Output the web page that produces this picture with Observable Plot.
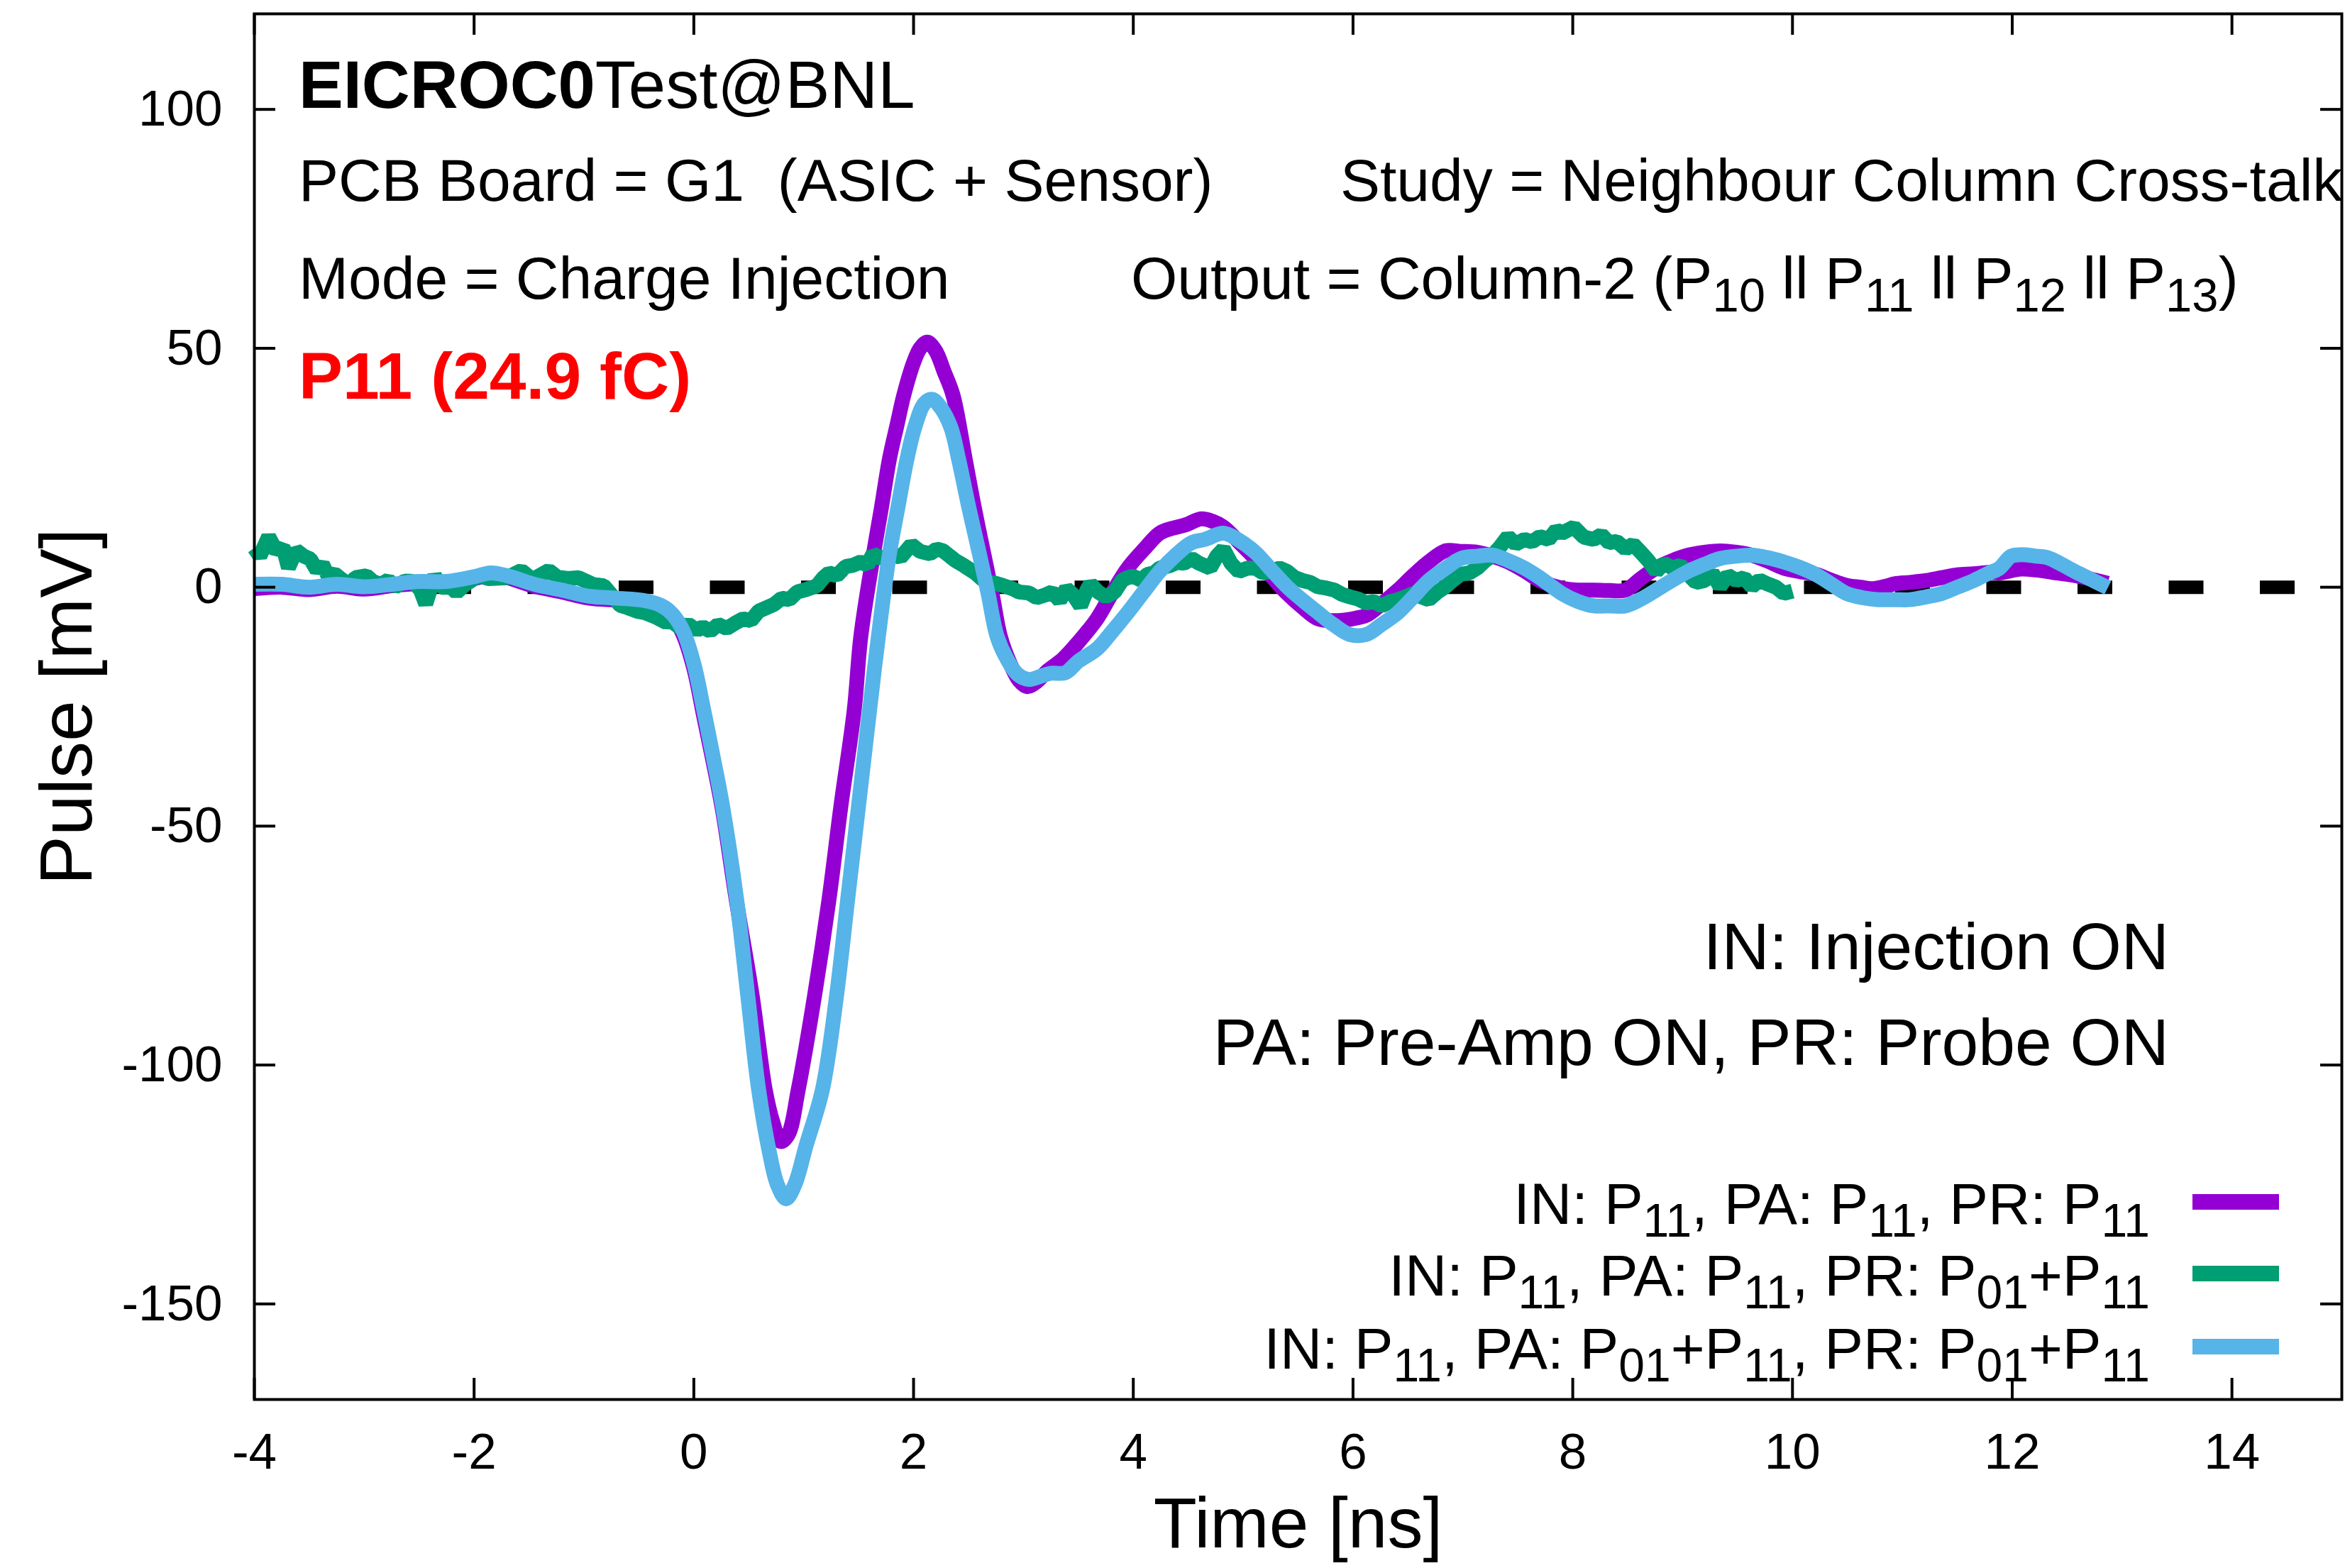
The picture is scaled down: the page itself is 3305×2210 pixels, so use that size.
<!DOCTYPE html>
<html>
<head>
<meta charset="utf-8">
<script src="https://cdn.jsdelivr.net/npm/d3@7"></script>
<script src="https://cdn.jsdelivr.net/npm/@observablehq/plot@0.6"></script>
<style>
  html, body { margin: 0; padding: 0; background: #ffffff; }
  #chart svg { display: block; }
  #chart svg text { font-family: "Liberation Sans", Arial, Helvetica, sans-serif; }
</style>
</head>
<body>
<div id="chart"></div>
<script>
// ---------------- data ----------------
const xTicks = [-4, -2, 0, 2, 4, 6, 8, 10, 12, 14];
const yTicks = [-150, -100, -50, 0, 50, 100];

const seriesColors = ["#9400d3", "#009e73", "#56b4e9"];

// IN: P11, PA: P11, PR: P11  (purple)
const timePurple = [-4.00,-3.75,-3.50,-3.25,-3.00,-2.75,-2.50,-2.25,-2.00,-1.85,-1.70,-1.45,-1.20,-0.95,-0.70,-0.45,-0.30,-0.20,-0.10,0.00,0.09,0.18,0.26,0.39,0.53,0.65,0.72,0.79,0.86,0.95,1.10,1.23,1.34,1.46,1.52,1.635,1.71,1.78,1.85,1.91,2.00,2.06,2.125,2.20,2.28,2.36,2.47,2.55,2.64,2.72,2.79,2.88,2.96,3.035,3.12,3.22,3.36,3.50,3.67,3.80,3.95,4.10,4.24,4.35,4.47,4.62,4.72,4.82,4.96,5.11,5.25,5.40,5.54,5.68,5.80,5.91,6.02,6.12,6.26,6.41,6.55,6.69,6.84,6.98,7.13,7.27,7.41,7.56,7.70,7.90,8.05,8.19,8.34,8.48,8.62,8.76,8.91,9.05,9.20,9.34,9.49,9.63,9.77,9.92,10.06,10.21,10.35,10.49,10.62,10.73,10.85,10.93,11.07,11.22,11.36,11.50,11.65,11.79,11.88,12.08,12.22,12.37,12.50,12.62,12.75,12.87];
const pulsePurple = [-0.3,0.0,-0.5,0.2,-0.4,0.3,0.8,0.9,1.8,2.6,2.0,0.2,-1.0,-2.3,-2.7,-3.2,-4.0,-5.8,-9.8,-17,-27,-37,-46.5,-66,-85.3,-105.2,-112,-116,-114.5,-105.2,-85.3,-65.4,-45.6,-25.7,-10.3,6.9,17,26.8,34,40.1,47,50,51.3,49.5,45,40.1,26.8,17,6.9,-2,-10.3,-16,-19.5,-20.8,-19.8,-17.5,-15,-11.5,-6.6,-1.5,4.0,8.0,11.3,12.3,13.0,14.3,13.8,12.6,9.5,6.0,2.5,-1.3,-4.2,-6.6,-7.0,-6.9,-6.5,-5.9,-3.5,-0.6,2.5,5.3,7.6,7.5,7.3,6.5,5.3,3.4,1.4,-0.2,-0.6,-0.6,-0.7,-0.6,1.8,4.0,5.6,6.7,7.3,7.6,7.3,6.7,5.5,4.0,3.3,2.7,1.5,0.4,0.0,-0.3,0.2,0.7,1.0,1.4,2.0,2.6,2.8,3.1,3.0,3.8,3.6,3.1,2.7,2.2,1.5,0.8];

// IN: P11, PA: P11, PR: P01+P11  (green)
const timeGreen = [-4.00,-3.95,-3.87,-3.80,-3.74,-3.69,-3.62,-3.55,-3.49,-3.43,-3.38,-3.33,-3.27,-3.20,-3.13,-3.08,-2.98,-2.92,-2.85,-2.78,-2.72,-2.63,-2.56,-2.49,-2.44,-2.36,-2.30,-2.21,-2.16,-2.08,-1.96,-1.87,-1.70,-1.57,-1.47,-1.32,-1.24,-1.15,-1.05,-0.92,-0.82,-0.67,-0.60,-0.52,-0.45,-0.35,-0.25,-0.21,-0.12,-0.05,0.03,0.08,0.15,0.22,0.30,0.37,0.45,0.52,0.59,0.66,0.73,0.80,0.87,0.94,1.02,1.12,1.18,1.23,1.30,1.38,1.45,1.52,1.58,1.63,1.70,1.81,1.88,1.98,2.06,2.15,2.21,2.27,2.33,2.38,2.46,2.56,2.62,2.67,2.75,2.82,2.90,2.96,3.05,3.12,3.19,3.26,3.33,3.39,3.45,3.52,3.58,3.61,3.68,3.75,3.83,3.90,3.95,4.00,4.07,4.13,4.19,4.24,4.33,4.40,4.46,4.53,4.60,4.70,4.76,4.82,4.89,4.96,5.04,5.11,5.18,5.25,5.33,5.40,5.47,5.54,5.61,5.68,5.76,5.83,5.90,5.97,6.05,6.12,6.19,6.26,6.34,6.41,6.48,6.55,6.62,6.69,6.77,6.84,6.91,6.98,7.06,7.13,7.20,7.27,7.34,7.41,7.48,7.56,7.63,7.70,7.78,7.85,7.90,8.01,8.10,8.19,8.26,8.33,8.40,8.48,8.55,8.62,8.69,8.76,8.83,8.91,8.98,9.05,9.12,9.20,9.27,9.34,9.41,9.49,9.56,9.63,9.70,9.77,9.85,9.92,10.00];
const pulseGreen = [8.2,6.5,10.6,7.5,8.5,4.1,7.7,6.5,5.9,3.5,4.8,2.4,2.8,1.5,0.6,2.0,2.4,1.2,0.6,1.5,0.0,1.3,1.2,-0.5,-3.5,2.4,0.0,0.0,-1.1,0.6,2.4,1.8,2.0,3.5,1.6,3.5,2.1,1.8,2.0,0.6,0.3,-3.8,-4.3,-5.0,-5.3,-6.2,-7.4,-7.0,-8.6,-7.8,-9.0,-8.3,-9.2,-7.8,-8.6,-7.6,-6.6,-7.0,-5.0,-4.3,-3.6,-2.3,-2.6,-1.0,-0.5,0.3,2.0,3.0,2.4,4.3,4.6,5.3,4.6,7.0,6.0,7.0,6.2,8.9,7.5,7.0,8.0,7.6,6.5,5.6,4.5,3.0,1.8,1.0,0.8,0.3,-0.3,-1.0,-1.2,-2.2,-1.7,-1.0,-2.8,-0.3,-1.5,-3.9,-0.5,0.7,-1.0,-2.0,-1.0,1.5,2.0,2.3,1.5,2.7,3.0,4.0,4.5,5.2,5.0,6.0,5.0,4.0,6.5,8.0,5.0,3.3,4.0,4.0,3.0,3.3,4.0,3.3,2.0,1.4,1.0,0.1,-0.2,-0.6,-1.5,-2.0,-2.5,-3.3,-3.0,-3.9,-3.0,-2.6,-2.0,-1.3,-2.0,-2.6,-1.0,0.1,1.5,2.7,3.0,4.0,5.5,6.7,8.5,10.6,9.0,10.0,9.5,10.6,10.0,12.0,11.3,12.6,10.5,10.0,11.0,9.3,9.6,8.0,9.0,7.3,5.5,3.3,5.0,4.0,4.6,2.7,1.0,1.4,3.0,0.1,2.5,1.4,2.0,0.1,1.5,0.7,0.0,-1.3,-0.8];

// IN: P11, PA: P01+P11, PR: P01+P11  (blue)
const timeBlue = [-4.00,-3.75,-3.50,-3.25,-3.00,-2.75,-2.50,-2.25,-2.00,-1.85,-1.70,-1.45,-1.20,-0.95,-0.70,-0.45,-0.30,-0.20,-0.10,0.00,0.09,0.18,0.26,0.39,0.49,0.59,0.69,0.76,0.84,0.92,1.02,1.17,1.30,1.40,1.50,1.60,1.68,1.78,1.86,1.94,2.01,2.10,2.17,2.25,2.34,2.41,2.50,2.60,2.68,2.76,2.85,2.95,3.05,3.15,3.25,3.38,3.50,3.67,3.80,3.95,4.10,4.24,4.40,4.53,4.65,4.82,4.95,5.11,5.25,5.40,5.55,5.68,5.82,5.97,6.12,6.26,6.41,6.55,6.69,6.84,6.98,7.13,7.27,7.41,7.56,7.70,7.90,8.05,8.19,8.34,8.48,8.62,8.76,8.91,9.05,9.20,9.34,9.49,9.63,9.77,9.92,10.06,10.21,10.35,10.49,10.64,10.78,10.93,11.07,11.22,11.36,11.50,11.65,11.79,11.88,11.99,12.08,12.22,12.32,12.45,12.57,12.72,12.87];
const pulseBlue = [0.6,0.6,0.0,0.6,0.1,0.6,1.2,1.2,2.2,3.0,2.4,0.6,-0.6,-1.9,-2.3,-2.8,-3.8,-5.5,-9.0,-16,-25.7,-36,-45.6,-65.4,-85.3,-105.2,-118.5,-125,-128,-125,-117,-105.2,-85.3,-65.4,-45.6,-25.7,-10.3,6.9,17,26.8,33.4,38.5,39.3,37.5,33.4,26.8,17,6.9,-1.5,-10.3,-15,-18.3,-19.3,-18.7,-18.0,-17.9,-15.5,-12.9,-9.5,-5.3,-0.8,3.3,7.0,9.3,10.0,11.3,10.0,7.3,3.8,0.1,-2.9,-5.3,-7.8,-9.9,-9.9,-7.8,-5.3,-2.0,1.4,3.9,6.0,6.5,6.7,5.6,4.0,2.0,-1.3,-3.0,-3.9,-3.9,-3.9,-2.5,-0.6,1.5,3.3,4.8,6.0,6.5,6.7,6.2,5.3,4.2,2.7,0.7,-1.3,-2.2,-2.6,-2.6,-2.6,-2.0,-1.3,0.0,1.4,3.0,3.9,6.5,6.8,6.5,6.2,4.8,3.3,1.6,-0.1];

const legendLabels = [
  [["IN: P", 0], ["11", 1], [", PA: P", 0], ["11", 1], [", PR: P", 0], ["11", 1]],
  [["IN: P", 0], ["11", 1], [", PA: P", 0], ["11", 1], [", PR: P", 0], ["01", 1], ["+P", 0], ["11", 1]],
  [["IN: P", 0], ["11", 1], [", PA: P", 0], ["01", 1], ["+P", 0], ["11", 1], [", PR: P", 0], ["01", 1], ["+P", 0], ["11", 1]]
];

// ---------------- layout ----------------
const W = 3305, H = 2210;
const mL = 358, mR = 5, mT = 19, mB = 238;
const xDomain = [-4, 15], yDomain = [-170, 120];
const pxPerX = (W - mL - mR) / (xDomain[1] - xDomain[0]);
const pxPerY = (H - mT - mB) / (yDomain[1] - yDomain[0]);
const tickLen = 30;

const rows = (t, v) => t.map((d, i) => ({t: d, v: v[i]}));
const lineOpts = (c) => ({x: "t", y: "v", stroke: c, strokeWidth: 21, strokeLinejoin: "round", strokeLinecap: "butt"});

const plot = Plot.plot({
  width: W, height: H,
  marginLeft: mL, marginRight: mR, marginTop: mT, marginBottom: mB,
  style: {fontFamily: "'Liberation Sans', Arial, Helvetica, sans-serif", background: "#ffffff", color: "#000000"},
  x: {domain: xDomain},
  y: {domain: yDomain},
  marks: [
    Plot.ruleY([0], {stroke: "#000", strokeWidth: 19, strokeDasharray: "49,79.5"}),
    Plot.line(rows(timePurple, pulsePurple), {...lineOpts(seriesColors[0]), curve: "catmull-rom"}),
    Plot.line(rows(timeGreen, pulseGreen), {...lineOpts(seriesColors[1]), strokeLinejoin: "miter", curve: "linear"}),
    Plot.line(rows(timeBlue, pulseBlue), {...lineOpts(seriesColors[2]), curve: "catmull-rom"}),
    Plot.frame({stroke: "#000", strokeWidth: 4}),
    Plot.ruleX(xTicks, {x: d => d, y1: yDomain[0], y2: yDomain[0] + tickLen / pxPerY, stroke: "#000", strokeWidth: 4}),
    Plot.ruleX(xTicks, {x: d => d, y1: yDomain[1] - tickLen / pxPerY, y2: yDomain[1], stroke: "#000", strokeWidth: 4}),
    Plot.ruleY(yTicks, {y: d => d, x1: xDomain[0], x2: xDomain[0] + tickLen / pxPerX, stroke: "#000", strokeWidth: 4}),
    Plot.ruleY(yTicks, {y: d => d, x1: xDomain[1] - tickLen / pxPerX, x2: xDomain[1], stroke: "#000", strokeWidth: 4}),
    Plot.axisX({ticks: xTicks, tickSize: 0, tickPadding: 47, fontSize: 71, tickFormat: d => String(d), label: null}),
    Plot.axisY({ticks: yTicks, tickSize: 0, tickPadding: 45, fontSize: 71, tickFormat: d => String(d), label: null}),
    Plot.text(["Pulse [mV]"], {frameAnchor: "left", rotate: -90, dx: -263, fontSize: 104, lineAnchor: "middle", textAnchor: "middle"}),
    Plot.text(["Time [ns]"], {frameAnchor: "bottom", dy: 208, lineAnchor: "bottom", fontSize: 100, textAnchor: "middle"})
  ]
});

document.getElementById("chart").appendChild(plot);

// ---------------- rich-text annotations ----------------
const svg = d3.select(plot);
const g = svg.append("g").attr("class", "annotations").style("white-space", "pre");

function rich(x, y, parts, size, anchor, opts = {}) {
  const subSize = Math.round(size * 0.8);
  const shift = Math.round(size * 0.22);
  const t = g.append("text")
    .attr("x", x).attr("y", y)
    .attr("font-size", size)
    .attr("text-anchor", anchor || "start")
    .attr("fill", opts.fill || "#000")
    .attr("xml:space", "preserve");
  let cur = 0;
  parts.forEach(([s, kind]) => {
    const ts = t.append("tspan").text(s);
    if (kind === 1) {
      ts.attr("font-size", subSize);
      if (cur !== shift) { ts.attr("dy", shift - cur); cur = shift; }
    } else if (kind === 2) {
      ts.attr("font-weight", "bold");
      if (cur !== 0) { ts.attr("dy", -cur); cur = 0; }
    } else {
      if (cur !== 0) { ts.attr("dy", -cur); cur = 0; }
    }
  });
  if (opts.bold) t.attr("font-weight", "bold");
  return t;
}

const left = mL + 63;
rich(left, 152, [["EICROC0", 2], ["Test@BNL", 0]], 94, "start");
rich(left, 283, [["PCB Board = G1  (ASIC + Sensor)", 0]], 84, "start");
rich(1889, 283, [["Study = Neighbour Column Cross-talk", 0]], 84, "start");
rich(left, 421, [["Mode = Charge Injection", 0]], 84, "start");
rich(1594, 421, [["Output = Column-2 (P", 0], ["10", 1], [" ll P", 0], ["11", 1], [" ll P", 0], ["12", 1], [" ll P", 0], ["13", 1], [")", 0]], 84, "start");
rich(left, 562, [["P11 (24.9 fC)", 0]], 93, "start", {fill: "#ff0000", bold: true});

rich(3057, 1366, [["IN: Injection ON", 0]], 93, "end");
rich(3057, 1501, [["PA: Pre-Amp ON, PR: Probe ON", 0]], 93, "end");

const legendBase = [1725, 1826, 1929];
legendLabels.forEach((parts, i) => {
  rich(3030, legendBase[i], parts, 82, "end");
  g.append("line")
    .attr("x1", 3090).attr("x2", 3212)
    .attr("y1", legendBase[i] - 31).attr("y2", legendBase[i] - 31)
    .attr("stroke", seriesColors[i]).attr("stroke-width", 22);
});
</script>
</body>
</html>
